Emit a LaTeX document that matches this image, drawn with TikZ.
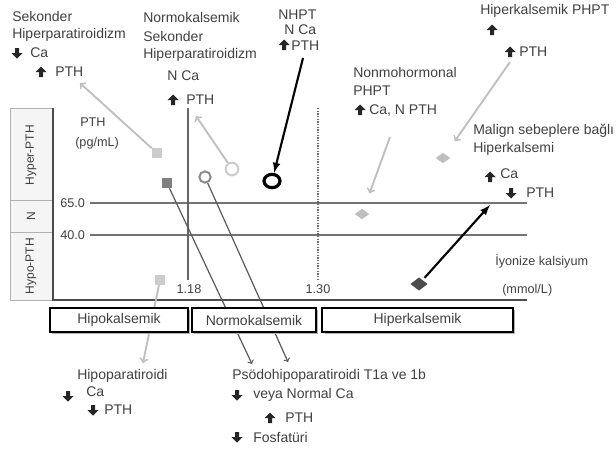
\documentclass[tikz,border=0pt]{standalone}
\usepackage{fontspec}
\setmainfont{Liberation Sans}
\usetikzlibrary{shadows}
\usetikzlibrary{arrows,shapes}
\usetikzlibrary{calc}
\tikzstyle{lbl}=[anchor=west,inner sep=0pt,text=black!75,font=\fontsize{10.5}{12}\selectfont]
\tikzstyle{ticklbl}=[inner sep=0pt,text=black!75,font=\fontsize{9.5}{11}\selectfont]
\tikzstyle{sidelbl}=[inner sep=0pt,rotate=90,text=black!75,font=\fontsize{9}{10}\selectfont]
\tikzstyle{catbox}=[draw,line width=1.8pt,fill=white,inner sep=0pt,minimum height=18pt,text=black!75,font=\fontsize{10.5}{12}\selectfont,drop shadow={shadow xshift=1.8pt,shadow yshift=-1.8pt,fill=black!30,opacity=1}]
\tikzstyle{sqlight}=[rectangle,fill=black!20,minimum size=7.5pt,inner sep=0pt]
\tikzstyle{sqdark}=[rectangle,fill=black!50,minimum size=7.5pt,inner sep=0pt]
\tikzstyle{ringmid}=[circle,draw=black!45,line width=1.5pt,minimum size=8.5pt,inner sep=0pt]
\tikzstyle{ringlight}=[circle,draw=black!20,line width=1.5pt,minimum size=9.5pt,inner sep=0pt]
\tikzstyle{ringbold}=[ellipse,draw=black,line width=2.4pt,minimum width=12pt,minimum height=10pt,inner sep=0pt]
\tikzstyle{dialight}=[diamond,fill=black!25,minimum width=11pt,minimum height=8pt,inner sep=0pt]
\tikzstyle{diadark}=[diamond,fill=black!70,minimum width=13pt,minimum height=10pt,inner sep=0pt]
\tikzstyle{lightedge}=[draw,black!25,line width=1.4pt,->]
\tikzstyle{boldedge}=[draw,black,line width=1.6pt,-latex]
\tikzstyle{thinedge}=[draw,black!65,line width=0.9pt,->]
\tikzset{
  uparr/.pic={\fill[black!85] (0,-5.5) -- (5.5,0) -- (2,0) -- (2,5) -- (-2,5) -- (-2,0) -- (-5.5,0) -- cycle;},
  dnarr/.pic={\fill[black!85] (0,5.5) -- (5.5,0) -- (2,0) -- (2,-5) -- (-2,-5) -- (-2,0) -- (-5.5,0) -- cycle;}
}

\begin{document}
\begin{tikzpicture}[x=0.75pt,y=-0.75pt]
   \useasboundingbox (0,0) rectangle (616,450);

   % side column
   \draw[black!30,fill=black!4] (10,108) rectangle (53,200);
   \draw[black!30,fill=black!4] (10,200) rectangle (53,232);
   \draw[black!30,fill=black!4] (10,232) rectangle (53,300);
   \foreach \pos/ \name / \label in {{(31,155)/shyper/Hyper-PTH},{(31,216)/snorm/N},{(31,266)/shypo/Hypo-PTH}}
       \node[sidelbl] (\name) at \pos {\label};

   % grid and axes
   \draw[black!55,line width=1.1pt] (90,203) -- (527,203);
   \draw[black!55,line width=1.1pt] (90,235) -- (527,235);
   \draw[black!60,line width=1pt] (188,108) -- (188,280);
   \draw[black!60,line width=1pt,densely dotted] (318,108) -- (318,280);
   \draw[black!70,line width=1.5pt] (53,108) -- (53,300) -- (527,300);

   \foreach \pos/ \name / \label in {{(80,122)/ypth/PTH},{(75,143)/yunit/{(pg/mL)}},{(60,203)/v65/65.0},{(60,235)/v40/40.0},
       {(495,261)/xcal/İyonize kalsiyum},{(502,290)/xunit/{(mmol/L)}}}
       \node[lbl,font=\fontsize{9.5}{11}\selectfont] (\name) at \pos {\label};
   \node[ticklbl] (t118) at (189,289) {1.18};
   \node[ticklbl] (t130) at (318,289) {1.30};

   % markers
   \node[sqlight] (sqa) at (157,153) {};
   \node[sqdark] (sqd) at (167,183) {};
   \node[sqlight] (sqb) at (160,280) {};
   \node[ringmid] (ringm) at (205,177) {};
   \node[ringlight] (ringl) at (232,169) {};
   \node[ringbold] (ringb) at (272,181) {};
   \node[dialight] (diah) at (443,158) {};
   \node[dialight] (dian) at (362,214) {};
   \node[diadark] (diad) at (419,284) {};

   % free ends
   \coordinate (sekend) at (80,83);
   \coordinate (nkend) at (196,116);
   \coordinate (nhstart) at (303,58);
   \coordinate (nmstart) at (390,137);
   \coordinate (hkstart) at (510,62);
   \coordinate (mlend) at (490,205);
   \coordinate (psend1) at (252,364);
   \coordinate (psend2) at (288,362);
   \coordinate (hpend) at (143,363);

   % connectors
   \draw[lightedge] (sqa) -- (sekend);
   \draw[lightedge] (ringl) -- (nkend);
   \draw[boldedge] (nhstart) -- (ringb);
   \draw[lightedge,shorten >=13pt] (nmstart) -- (dian);
   \draw[lightedge,shorten >=12pt] (hkstart) -- (diah);
   \draw[boldedge,shorten <=2pt] (diad) -- (mlend);
   \draw[thinedge] (sqd) -- (psend1);
   \draw[thinedge] (ringm) -- (psend2);
   \draw[lightedge] (sqb) -- (hpend);

   % calcium categories
   \node[catbox,minimum width=103.5pt] (hipo) at (119,320) {Hipokalsemik};
   \node[catbox,minimum width=93pt] (normo) at (254,320) {Normokalsemik};
   \node[catbox,minimum width=143pt] (hiper) at (417.5,320) {Hiperkalsemik};

   % labels
   \foreach \pos/ \name / \label in {{(12,16)/sek1/Sekonder},{(12,35)/sek2/Hiperparatiroidizm},{(30,53)/sekca/Ca},{(55,72)/sekpth/PTH},
       {(143,17)/nk1/Normokalsemik},{(143,36)/nk2/Sekonder},{(143,55)/nk3/Hiperparatiroidizm},{(167,76)/nkca/N Ca},{(186,100)/nkpth/PTH},
       {(278,15)/nh1/NHPT},{(284,30)/nh2/N Ca},{(291,46)/nhpth/PTH},
       {(480,11)/hk1/Hiperkalsemik PHPT},{(519,52)/hkpth/PTH},
       {(353,72)/nm1/Nonmohormonal},{(353,91)/nm2/PHPT},{(369,111)/nm3/{Ca, N PTH}},
       {(473,131)/ml1/Malign sebeplere bağlı},{(473,149)/ml2/Hiperkalsemi},{(500,174)/mlca/Ca},{(526,193)/mlpth/PTH},
       {(77,376)/hp1/Hipoparatiroidi},{(86,392)/hpca/Ca},{(104,410)/hppth/PTH},
       {(232,376)/ps1/Psödohipoparatiroidi T1a ve 1b},{(253,395)/ps2/veya Normal Ca},{(285,418)/pspth/PTH},{(253,437)/ps3/Fosfatüri}}
       \node[lbl] (\name) at \pos {\label};

   % up and down arrows
   \foreach \pos in {(41,72),(173,100),(284,45),(492,30),(510,52),(360,110),(490,177),(270,418)}
       \pic at \pos {uparr};
   \foreach \pos in {(17,53),(511,193),(68,396),(93,410),(237,395),(237,437)}
       \pic at \pos {dnarr};
\end{tikzpicture}
\end{document}
